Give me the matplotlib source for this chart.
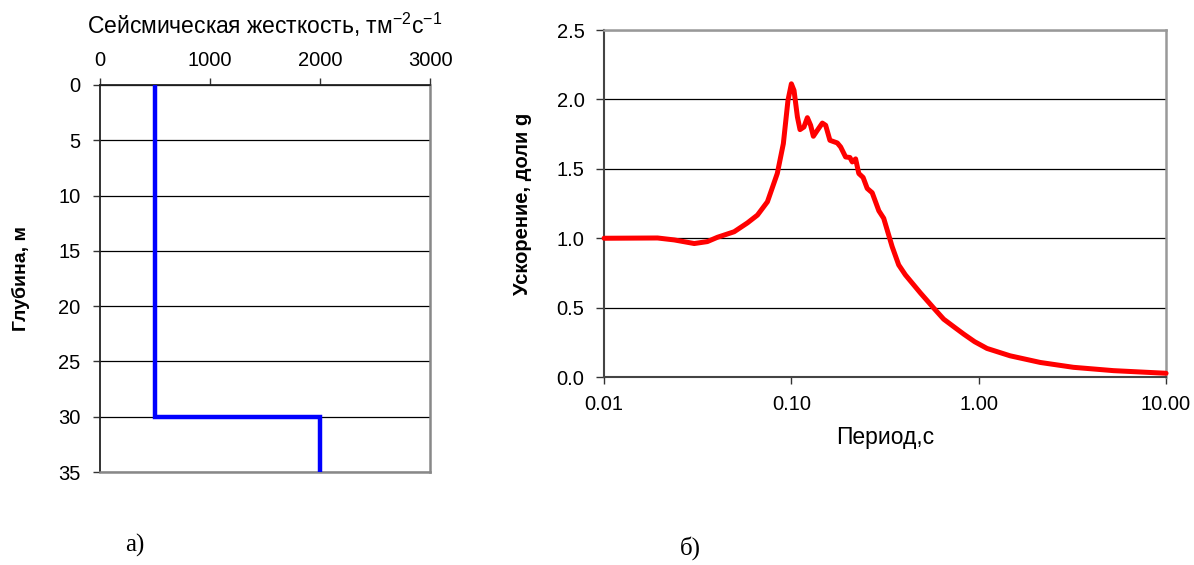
import matplotlib.pyplot as plt
from matplotlib.ticker import FixedLocator, NullLocator

plt.rcParams['font.family'] = ['Liberation Sans', 'DejaVu Sans']

# профиль сейсмической жесткости (левый график)
stiffness = [500, 500, 2000, 2000]
depth = [0, 30, 30, 35]

# спектр ускорений (правый график)
period = [0.01, 0.0193, 0.0237, 0.0303, 0.0356, 0.0403, 0.0495, 0.0583, 0.0659,
          0.0745, 0.0841, 0.0906, 0.0959, 0.100, 0.1033, 0.1077, 0.1112, 0.1167,
          0.1217, 0.1267, 0.131, 0.1376, 0.1463, 0.1524, 0.1606, 0.1758, 0.1832,
          0.1947, 0.2053, 0.2113, 0.2202, 0.229, 0.2415, 0.254, 0.270, 0.293,
          0.311, 0.345, 0.374, 0.406, 0.489, 0.575, 0.65, 0.74, 0.832, 0.95,
          1.107, 1.47, 2.13, 3.2, 5.24, 10.0]
accel = [1.0, 1.002, 0.988, 0.962, 0.976, 1.007, 1.047, 1.111, 1.167,
         1.263, 1.467, 1.682, 1.994, 2.113, 2.065, 1.874, 1.783, 1.802,
         1.869, 1.814, 1.735, 1.778, 1.830, 1.814, 1.706, 1.687, 1.658,
         1.586, 1.582, 1.550, 1.572, 1.467, 1.438, 1.359, 1.328, 1.198,
         1.144, 0.940, 0.808, 0.736, 0.605, 0.497, 0.417, 0.36, 0.309, 0.255,
         0.206, 0.153, 0.105, 0.07, 0.046, 0.027]

depth_ticks = [0, 5, 10, 15, 20, 25, 30, 35]
stiff_ticks = [0, 1000, 2000, 3000]
acc_ticks = [0.0, 0.5, 1.0, 1.5, 2.0, 2.5]
period_ticks = [0.01, 0.1, 1.0, 10.0]
period_labels = ['0.01', '0.10', '1.00', '10.00']

fig = plt.figure(figsize=(11.94, 5.65), dpi=100)
fs = 14.5

# --- а) ---
ax1 = fig.add_axes([0.0838, 0.1646, 0.2764, 0.685])
ax1.plot(stiffness, depth, color='#0000ff', lw=3.2, solid_joinstyle='miter', zorder=3)
ax1.set_xlim(0, 3000)
ax1.set_ylim(35, 0)
ax1.xaxis.tick_top()
ax1.xaxis.set_label_position('top')
ax1.set_xticks(stiff_ticks)
ax1.set_yticks(depth_ticks)
ax1.tick_params(axis='x', labelsize=fs, length=5, width=1, color='#333333', pad=6)
ax1.tick_params(axis='y', labelsize=fs, length=5, width=1, color='#333333', pad=9)
ax1.set_xlabel('Сейсмическая жесткость, тм$^{\\mathregular{-2}}$с$^{\\mathregular{-1}}$',
               fontsize=16.5, labelpad=12)
ax1.set_ylabel('Глубина, м', fontsize=14, fontweight='bold', labelpad=20)
ax1.grid(axis='y', color='black', lw=0.9)
ax1.set_axisbelow(True)
for s in ['left', 'top']:
    ax1.spines[s].set_color('#222222')
    ax1.spines[s].set_linewidth(1.3)
for s in ['right', 'bottom']:
    ax1.spines[s].set_color('#888888')
    ax1.spines[s].set_linewidth(1.8)

# --- б) ---
ax2 = fig.add_axes([0.5059, 0.3327, 0.4707, 0.614])
ax2.plot(period, accel, color='#ff0000', lw=3.6, solid_joinstyle='round',
         solid_capstyle='round', zorder=3, clip_on=False)
ax2.set_xscale('log')
ax2.set_xlim(0.01, 10)
ax2.set_ylim(0, 2.5)
ax2.xaxis.set_major_locator(FixedLocator(period_ticks))
ax2.xaxis.set_minor_locator(NullLocator())
ax2.set_xticklabels(period_labels)
ax2.set_yticks(acc_ticks)
ax2.set_yticklabels([f'{v:.1f}' for v in acc_ticks])
ax2.tick_params(axis='x', labelsize=fs, length=5, width=1, color='#333333', pad=8)
ax2.tick_params(axis='y', labelsize=fs, length=6, width=1, color='#333333', pad=8)
ax2.set_ylabel('Ускорение, доли g', fontsize=14.5, fontweight='bold', labelpad=18)
ax2.grid(axis='y', color='black', lw=0.9)
ax2.set_axisbelow(True)
for s in ['left', 'bottom']:
    ax2.spines[s].set_color('#444444')
    ax2.spines[s].set_linewidth(1.5)
for s in ['right', 'top']:
    ax2.spines[s].set_color('#999999')
    ax2.spines[s].set_linewidth(1.8)

fig.text(0.741, 0.226, 'Период,с', fontsize=16.5, ha='center', va='center')

fig.text(0.113, 0.035, 'а)', fontsize=18, family=['Liberation Serif'], ha='center', va='center')
fig.text(0.578, 0.03, 'б)', fontsize=18, family=['Liberation Serif'], ha='center', va='center')

fig.savefig('out.png', dpi=100)
